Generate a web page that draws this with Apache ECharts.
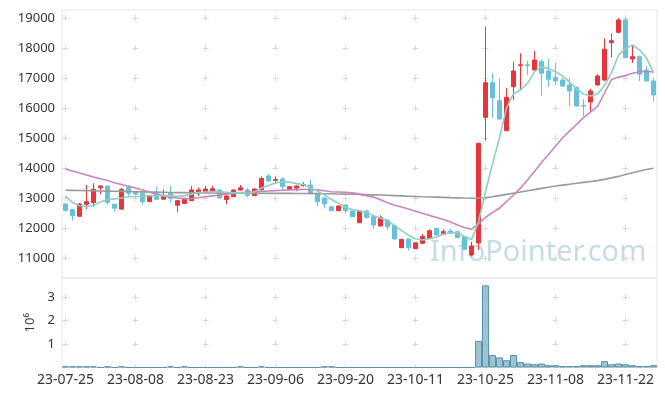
<!DOCTYPE html>
<html><head><meta charset="utf-8">
<script src="https://cdn.jsdelivr.net/npm/echarts@6/dist/echarts.min.js"></script>
<style>html,body{margin:0;padding:0;background:#fff}#c{width:665px;height:396px}</style>
</head><body><div id="c"></div>
<script>
const dates = ['23-07-25','23-07-26','23-07-27','23-07-28','23-07-31','23-08-01','23-08-02','23-08-03','23-08-04','23-08-07',
'23-08-08','23-08-09','23-08-10','23-08-11','23-08-14','23-08-16','23-08-17','23-08-18','23-08-21','23-08-22',
'23-08-23','23-08-24','23-08-25','23-08-28','23-08-29','23-08-30','23-08-31','23-09-01','23-09-04','23-09-05',
'23-09-06','23-09-07','23-09-08','23-09-11','23-09-12','23-09-13','23-09-14','23-09-15','23-09-18','23-09-19',
'23-09-20','23-09-21','23-09-22','23-09-25','23-09-26','23-09-27','23-10-04','23-10-05','23-10-06','23-10-10',
'23-10-11','23-10-12','23-10-13','23-10-16','23-10-17','23-10-18','23-10-19','23-10-20','23-10-23','23-10-24',
'23-10-25','23-10-26','23-10-27','23-10-30','23-10-31','23-11-01','23-11-02','23-11-03','23-11-06','23-11-07',
'23-11-08','23-11-09','23-11-10','23-11-13','23-11-14','23-11-15','23-11-16','23-11-17','23-11-20','23-11-21',
'23-11-22','23-11-23','23-11-24','23-11-27','23-11-28'];
const opens = [12800,12610,12390,12790,12850,13340,13400,12790,12630,13360,
13200,13160,12880,13190,12960,13160,12760,12820,12910,13160,
13210,13230,13267,12950,13043,13267,13267,13077,13280,13733,
13590,13633,13290,13330,13410,13433,13157,13000,12710,12577,
12767,12567,12177,12567,12377,12067,12267,12077,11343,11633,
11310,11490,11657,11990,11790,11900,11877,11710,11100,11500,
15690,16843,16243,15243,16710,17420,17440,17267,17543,17233,
17023,16933,16767,16677,16080,16200,16767,16933,18177,18523,
18933,17633,17710,17267,16900];
const closes = [12580,12410,12800,12880,13290,13400,12850,12660,13290,13160,
13130,12880,13070,12960,13070,12990,12910,12990,13270,13270,
13300,13310,13000,13067,13267,13340,13090,13300,13650,13567,
13620,13377,13377,13400,13450,13140,12877,12800,12577,12733,
12577,12377,12567,12343,12100,12343,12043,11633,11623,11343,
11505,11720,11910,11767,11877,11823,11677,11290,11400,14820,
16843,16343,15633,16357,17233,17440,17420,17600,17157,16957,
16900,16733,16567,16067,16067,16570,17067,17960,18243,18933,
17677,17710,17123,16900,16433];
const lows = [12550,12250,12380,12630,12710,13130,12770,12550,12600,13030,
13100,12770,12870,12950,12950,12830,12530,12800,12900,13070,
13150,13200,12990,12790,13040,13250,13020,13070,13200,13550,
13480,13260,13250,13230,13380,13130,12720,12650,12570,12570,
12480,12370,12170,12330,11980,12060,11930,11620,11330,11250,
11300,11480,11640,11760,11780,11810,11670,11280,11050,11270,
14910,15660,15600,15230,16270,16600,17100,17260,16400,16700,
16767,16700,16067,16050,15720,15877,16750,16900,17690,18500,
17670,17500,16900,16890,16210];
const highs = [12820,12640,12830,13430,13490,13420,13410,12800,13330,13430,
13220,13200,13080,13380,13290,13400,12930,13000,13400,13350,
13400,13400,13280,13080,13280,13430,13330,13310,13720,13800,
13720,13700,13400,13410,13530,13600,13160,13010,12720,12740,
12780,12570,12580,12600,12450,12420,12280,12090,11630,11640,
11510,11800,11950,12000,11950,11980,11890,11720,11540,14850,
18710,17170,16990,16657,17543,17823,17577,17910,17620,17630,
17500,17000,17000,16730,16300,16640,17130,18320,18490,19000,
19000,18100,17750,17400,17000];
const ma5 = [13060,12850,12740,12710,12760,12870,12940,12970,13000,13040,
13050,13060,13080,13080,13080,13070,13060,13080,13130,13180,
13200,13210,13210,13190,13170,13180,13160,13210,13330,13420,
13500,13540,13530,13480,13450,13340,13230,13100,12950,12820,
12700,12610,12570,12520,12410,12330,12250,12080,11920,11760,
11640,11600,11640,11700,11800,11850,11840,11720,11620,12200,
13210,14140,15010,16000,16480,16600,16820,17210,17370,17320,
17210,17070,16860,16650,16470,16400,16470,16750,17180,17760,
17980,18100,17940,17670,17170];
const ma20 = [13970,13900,13830,13770,13700,13640,13580,13510,13450,13390,
13330,13270,13200,13120,13070,13030,13000,12980,12985,13010,
13040,13070,13100,13130,13155,13175,13190,13205,13220,13235,
13245,13260,13270,13280,13285,13285,13270,13240,13210,13200,
13190,13170,13130,13080,13030,12940,12840,12760,12700,12630,
12560,12490,12420,12350,12280,12200,12100,12020,11960,12130,
12350,12520,12660,12880,13100,13330,13600,13880,14180,14450,
14730,15000,15230,15450,15680,15860,16050,16500,16950,17030,
17080,17160,17210,17220,17200];
const ma120 = [13260,13255,13250,13245,13240,13235,13230,13225,13220,13215,
13210,13205,13200,13195,13190,13185,13180,13178,13175,13172,
13170,13168,13165,13163,13160,13160,13158,13157,13156,13155,
13155,13154,13153,13152,13150,13148,13145,13142,13140,13135,
13130,13125,13120,13112,13105,13098,13090,13080,13070,13060,
13050,13042,13035,13028,13020,13012,13005,12998,12992,12995,
13010,13040,13080,13120,13160,13200,13240,13280,13320,13360,
13400,13430,13460,13490,13520,13550,13580,13620,13670,13720,
13780,13840,13900,13950,13990];
const volumes = [0.05,0.05,0.05,0.05,0.05,0,0.05,0,0.05,0,
0,0,0,0,0,0.05,0,0.05,0,0,
0,0,0,0,0,0.05,0,0,0.05,0,
0,0,0,0,0,0,0,0.05,0.05,0,
0,0,0,0,0,0,0,0,0,0,
0,0,0,0,0,0,0,0,0,1.13,
3.49,0.53,0.43,0.31,0.53,0.23,0.17,0.14,0.17,0.10,
0.10,0.06,0.06,0.06,0.10,0.10,0.10,0.27,0.14,0.17,
0.14,0.10,0.06,0.06,0.10];
const priceTicks = [11000,12000,13000,14000,15000,16000,17000,18000,19000];
const volTicks = [1,2,3];

const ohlc = opens.map((o, i) => [o, closes[i], lows[i], highs[i]]);
const FONT = 'Noto Sans';
const crossColor = '#d8d8d8';
const chart = echarts.init(document.getElementById('c'), null, {renderer: 'canvas'});
chart.setOption({
  animation: false,
  backgroundColor: '#fff',
  grid: [
    {left: 62, right: 8, top: 10, height: 268, show: true, borderColor: '#e6e6e6', borderWidth: 1},
    {left: 62, right: 8, top: 278, height: 89.5, show: true, borderColor: '#e6e6e6', borderWidth: 1}
  ],
  xAxis: [
    {type: 'category', gridIndex: 0, data: dates, boundaryGap: true,
     axisLabel: {show: false}, axisTick: {show: false}, axisLine: {show: false},
     splitLine: {show: true, interval: 9, alignWithLabel: true,
       lineStyle: {color: crossColor, width: 1, type: [6, 24], dashOffset: 25}}},
    {type: 'category', gridIndex: 1, data: dates, boundaryGap: true,
     axisLabel: {interval: 9, fontSize: 14, color: '#333', fontFamily: FONT, margin: 6},
     axisTick: {show: false}, axisLine: {show: false},
     splitLine: {show: true, interval: 9, alignWithLabel: true,
       lineStyle: {color: crossColor, width: 1, type: [6, 17.5], dashOffset: 7.5}}}
  ],
  yAxis: [
    {type: 'value', gridIndex: 0, min: 10333.33, max: 19266.67, scale: true,
     axisLabel: {customValues: priceTicks, fontSize: 13, color: '#333', fontFamily: FONT, margin: 7,
       formatter: v => String(Math.round(v))},
     axisTick: {show: false, customValues: priceTicks}, axisLine: {show: false},
     splitLine: {show: true, lineStyle: {color: crossColor, width: 1, type: [6, 64], dashOffset: 69.5}}},
    {type: 'value', gridIndex: 1, min: 0, max: 3.8,
     name: '10⁶', nameLocation: 'middle', nameRotate: 90, nameGap: 22,
     nameTextStyle: {fontSize: 13, color: '#333', fontFamily: FONT},
     axisLabel: {customValues: volTicks, fontSize: 13, color: '#333', fontFamily: FONT, margin: 7,
       formatter: v => String(Math.round(v))},
     axisTick: {show: false, customValues: volTicks}, axisLine: {show: false},
     splitLine: {show: true, lineStyle: {color: crossColor, width: 1, type: [6, 64], dashOffset: 69.5}}}
  ],
  graphic: [
    {type: 'text', left: 430, top: 238, z: -10, silent: true,
     style: {text: 'InfoPointer.com', font: '29px "Noto Sans"', fill: 'rgba(160,195,212,0.6)'}}
  ],
  series: [
    {type: 'candlestick', xAxisIndex: 0, yAxisIndex: 0, data: ohlc, barWidth: 5,
     itemStyle: {color: '#e8343b', color0: '#68c0da', borderColor: '#e8343b', borderColor0: '#68c0da', borderWidth: 1}},
    {type: 'line', xAxisIndex: 0, yAxisIndex: 0, data: ma120, showSymbol: false,
     lineStyle: {color: '#9a9a9a', width: 1.6}},
    {type: 'line', xAxisIndex: 0, yAxisIndex: 0, data: ma20, showSymbol: false,
     lineStyle: {color: '#c985c0', width: 1.6}},
    {type: 'line', xAxisIndex: 0, yAxisIndex: 0, data: ma5, showSymbol: false,
     lineStyle: {color: '#8fcfc1', width: 1.6}},
    {type: 'bar', xAxisIndex: 1, yAxisIndex: 1, data: volumes, barCategoryGap: '0%',
     itemStyle: {color: 'rgba(140,185,205,0.85)', borderColor: '#5b93ad', borderWidth: 1}}
  ]
});
</script></body></html>
